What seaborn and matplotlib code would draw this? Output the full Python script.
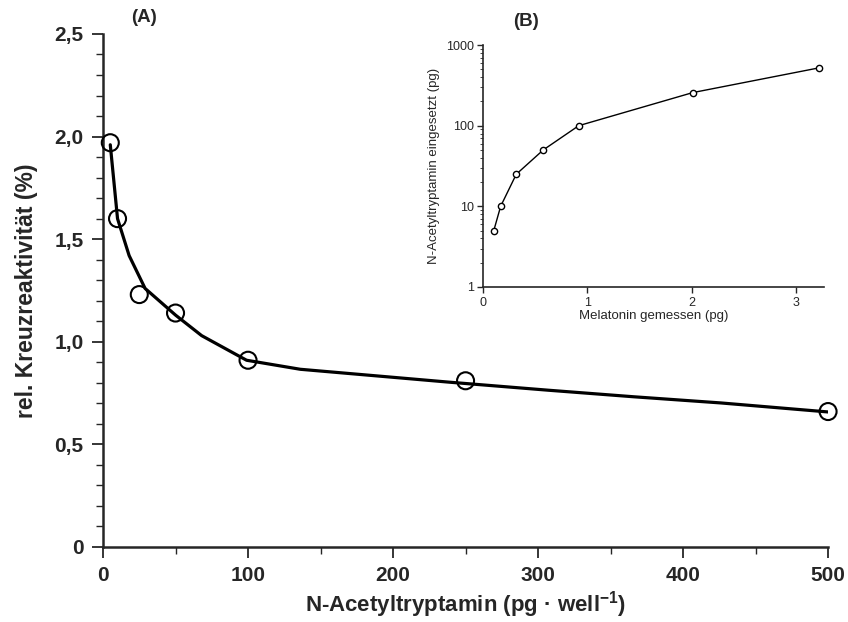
import matplotlib
matplotlib.use("Agg")
import matplotlib.pyplot as plt
import seaborn as sns
from matplotlib.ticker import FixedLocator, LogLocator, NullFormatter

# (A) measured points
conc_pg = [5, 10, 25, 50, 100, 250, 500]
cross_react = [1.97, 1.60, 1.23, 1.14, 0.91, 0.81, 0.66]

# (A) hand-drawn curve
curve_x = [5, 10, 18, 29, 50, 68, 99, 136, 239, 307, 366, 426, 500]
curve_y = [1.96, 1.60, 1.42, 1.26, 1.13, 1.03, 0.91, 0.866, 0.803, 0.764, 0.732, 0.702, 0.658]

# (B) inset
mel_measured = [0.10, 0.166, 0.316, 0.575, 0.916, 2.01, 3.22]
nat_used = [5, 10, 25, 50, 100, 257, 520]

y_ticks = [0, 0.5, 1.0, 1.5, 2.0, 2.5]
y_ticklabels = ["0", "0,5", "1,0", "1,5", "2,0", "2,5"]
x_ticks = [0, 100, 200, 300, 400, 500]

sns.set_theme(style="ticks")
plt.rcParams["font.family"] = ["Liberation Sans", "DejaVu Sans"]
plt.rcParams["mathtext.fontset"] = "custom"
plt.rcParams["mathtext.rm"] = "Liberation Sans:bold"
plt.rcParams["mathtext.it"] = "Liberation Sans:bold"
plt.rcParams["mathtext.bf"] = "Liberation Sans:bold"

fig = plt.figure(figsize=(8.48, 6.22), dpi=100)
ax = fig.add_axes([0.1215, 0.1206, 0.855, 0.8248])

sns.lineplot(x=curve_x, y=curve_y, ax=ax, color="black", linewidth=2.3, sort=False)
sns.scatterplot(x=conc_pg, y=cross_react, ax=ax, marker="o", s=150,
                facecolor="none", edgecolor="black", linewidth=1.5, zorder=3,
                clip_on=False)

ax.set_xlim(0, 500)
ax.set_ylim(0, 2.5)
ax.set_yticks(y_ticks)
ax.set_yticklabels(y_ticklabels)
ax.set_xticks(x_ticks)
ax.yaxis.set_minor_locator(FixedLocator([i / 10 for i in range(26)]))
ax.xaxis.set_minor_locator(FixedLocator([50, 150, 250, 350, 450]))
ax.tick_params(axis="both", which="major", direction="out", length=8, width=1.3,
               labelsize=15, pad=6)
ax.tick_params(axis="both", which="minor", direction="out", length=5, width=1.0)
for lab in ax.get_xticklabels() + ax.get_yticklabels():
    lab.set_fontweight("bold")
sns.despine(ax=ax)
for s in ["left", "bottom"]:
    ax.spines[s].set_linewidth(1.8)
ax.set_xlabel("N-Acetyltryptamin (pg · well$^{-1}$)", fontsize=16, fontweight="bold", labelpad=3)
ax.set_ylabel("rel. Kreuzreaktivität (%)", fontsize=16.5, fontweight="bold", labelpad=12)
fig.text(0.155, 0.972, "(A)", fontsize=13.5, fontweight="bold", va="center")

# inset (B)
axin = fig.add_axes([0.570, 0.5386, 0.4015, 0.389])
sns.lineplot(x=mel_measured, y=nat_used, ax=axin, color="black", linewidth=1.0,
             marker="o", markersize=4.5, markerfacecolor="white",
             markeredgecolor="black", markeredgewidth=1.0)
axin.set_yscale("log")
axin.set_ylim(1, 1000)
axin.set_xlim(0, 3.27)
axin.set_xticks([0, 1, 2, 3])
axin.set_yticks([1, 10, 100, 1000])
axin.set_yticklabels(["1", "10", "100", "1000"])
axin.yaxis.set_minor_locator(LogLocator(base=10, subs=range(2, 10)))
axin.yaxis.set_minor_formatter(NullFormatter())
axin.tick_params(axis="both", which="major", direction="out", length=4, width=1.0,
                 labelsize=9, pad=3)
axin.tick_params(axis="both", which="minor", direction="out", length=2, width=0.6)
sns.despine(ax=axin)
for s in ["left", "bottom"]:
    axin.spines[s].set_linewidth(1.2)
axin.set_xlabel("Melatonin gemessen (pg)", fontsize=9.5, labelpad=1)
axin.set_ylabel("N-Acetyltryptamin eingesetzt (pg)", fontsize=9.5, labelpad=4)
fig.text(0.605, 0.966, "(B)", fontsize=13.5, fontweight="bold", va="center")

fig.savefig("out.png", dpi=100)
